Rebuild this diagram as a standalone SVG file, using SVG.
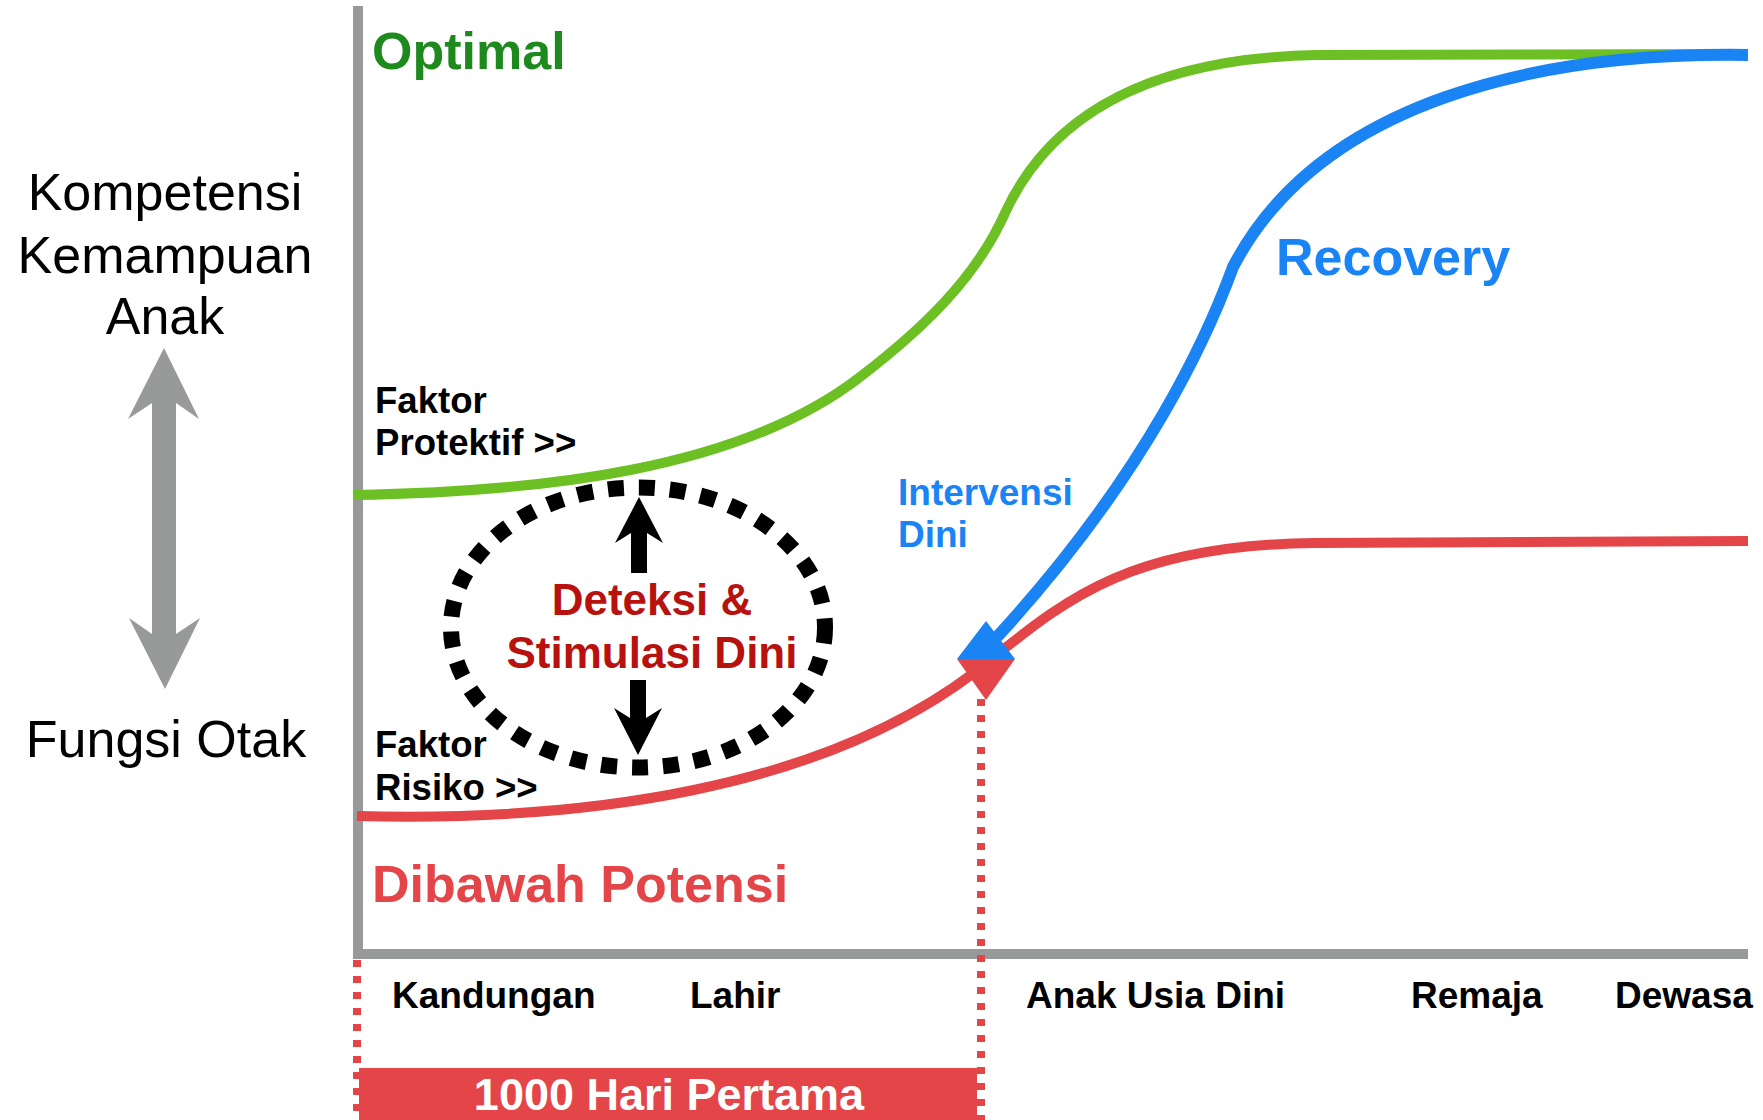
<svg xmlns="http://www.w3.org/2000/svg" width="1763" height="1120" viewBox="0 0 1763 1120">
  <style>
    text { font-family: "Liberation Sans", Arial, sans-serif; }
    .b { font-weight: bold; }
    .side { font-size: 52px; fill: #000; text-anchor: middle; }
    .factor { font-size: 36.6px; fill: #000; font-weight: bold; }
    .stage { font-size: 37px; fill: #000; font-weight: bold; }
    .curve { fill: none; stroke-linecap: butt; stroke-linejoin: round; }
    .green { stroke: #6cc024; stroke-width: 10; }
    .blue { stroke: #1a84f5; stroke-width: 12; }
    .red { stroke: #e34548; stroke-width: 10; }
    .dots { stroke: #e34548; stroke-width: 8; stroke-dasharray: 7 9; fill: none; }
  </style>

  <!-- axes -->
  <g id="axes">
    <path d="M358,6 V954 H1748" fill="none" stroke="#979a99" stroke-width="10" stroke-linejoin="miter"/>
  </g>

  <!-- left-side labels and scale arrow -->
  <g id="label-kompetensi">
    <text class="side" x="165" y="210">Kompetensi</text>
    <text class="side" x="165" y="273">Kemampuan</text>
    <text class="side" x="165" y="334">Anak</text>
  </g>
  <g id="scale-arrow">
    <polygon fill="#979a99" points="164,348 199,419 176,403 176,634 200,618 165,689 129,618 152,634 152,403 128,419"/>
  </g>
  <g id="label-fungsi-otak">
    <text class="side" x="166" y="757">Fungsi Otak</text>
  </g>

  <!-- the 1000-day window -->
  <g id="window-1000">
    <rect x="359" y="1068" width="618" height="60" fill="#e34548"/>
    <text class="b" x="669" y="1110" font-size="45" fill="#fff" text-anchor="middle">1000 Hari Pertama</text>
  </g>

  <!-- growth curves -->
  <g id="connectors">
    <path id="curve-optimal" class="curve green" d="M353,495 C540,492 740,470 860,377 C920,331 975,280 1005,213 C1050,115 1150,58 1317,55 L1748,54"/>
    <path id="curve-risk" class="curve red" d="M357,816 C580,822 820,790 975,672 C1060,605 1120,545 1315,543 L1748,541"/>
    <path id="curve-recovery" class="curve blue" d="M1748,55 C1540,52 1320,100 1233,267 C1210,330 1150,470 997,637"/>
    <polygon id="recovery-head" fill="#1a84f5" points="986,621 957,659 1015,659"/>
    <polygon id="risk-head" fill="#e34548" points="957,659 1015,659 986,700"/>
    <line class="dots" x1="357" y1="960" x2="357" y2="1120"/>
    <line class="dots" x1="981" y1="699" x2="981" y2="1120"/>
  </g>

  <!-- curve labels -->
  <g id="label-optimal">
    <text class="b" x="372" y="69" font-size="52" fill="#1e8a1e">Optimal</text>
  </g>
  <g id="label-protektif">
    <text class="factor" x="375" y="413">Faktor</text>
    <text class="factor" x="375" y="455">Protektif &gt;&gt;</text>
  </g>
  <g id="label-risiko">
    <text class="factor" x="375" y="757">Faktor</text>
    <text class="factor" x="375" y="800">Risiko &gt;&gt;</text>
  </g>
  <g id="label-dibawah">
    <text class="b" x="372" y="902" font-size="52" fill="#e34548">Dibawah Potensi</text>
  </g>
  <g id="label-recovery">
    <text class="b" x="1276" y="275" font-size="52" fill="#1a84f5">Recovery</text>
  </g>
  <g id="label-intervensi">
    <text class="b" x="898" y="505" font-size="37" fill="#1a84f5">Intervensi</text>
    <text class="b" x="898" y="547" font-size="37" fill="#1a84f5">Dini</text>
  </g>

  <!-- detection & stimulation bubble -->
  <g id="deteksi">
    <ellipse cx="638" cy="627.5" rx="187" ry="140" fill="none" stroke="#000" stroke-width="16" stroke-dasharray="16 15"/>
    <polygon fill="#000" points="639,497 663,543 647,533 647,573 631,573 631,533 615,543"/>
    <polygon fill="#000" points="630,680 646,680 646,718 662,708 638,755 614,708 630,718"/>
    <text class="b" x="652" y="615" font-size="44" fill="#b8120f" text-anchor="middle">Deteksi &amp;</text>
    <text class="b" x="652" y="668" font-size="44" fill="#b8120f" text-anchor="middle">Stimulasi Dini</text>
  </g>

  <!-- stages along the time axis -->
  <g id="stages">
    <text class="stage" x="392" y="1008">Kandungan</text>
    <text class="stage" x="690" y="1008">Lahir</text>
    <text class="stage" x="1026" y="1008">Anak Usia Dini</text>
    <text class="stage" x="1411" y="1008">Remaja</text>
    <text class="stage" x="1615" y="1008">Dewasa</text>
  </g>
</svg>
